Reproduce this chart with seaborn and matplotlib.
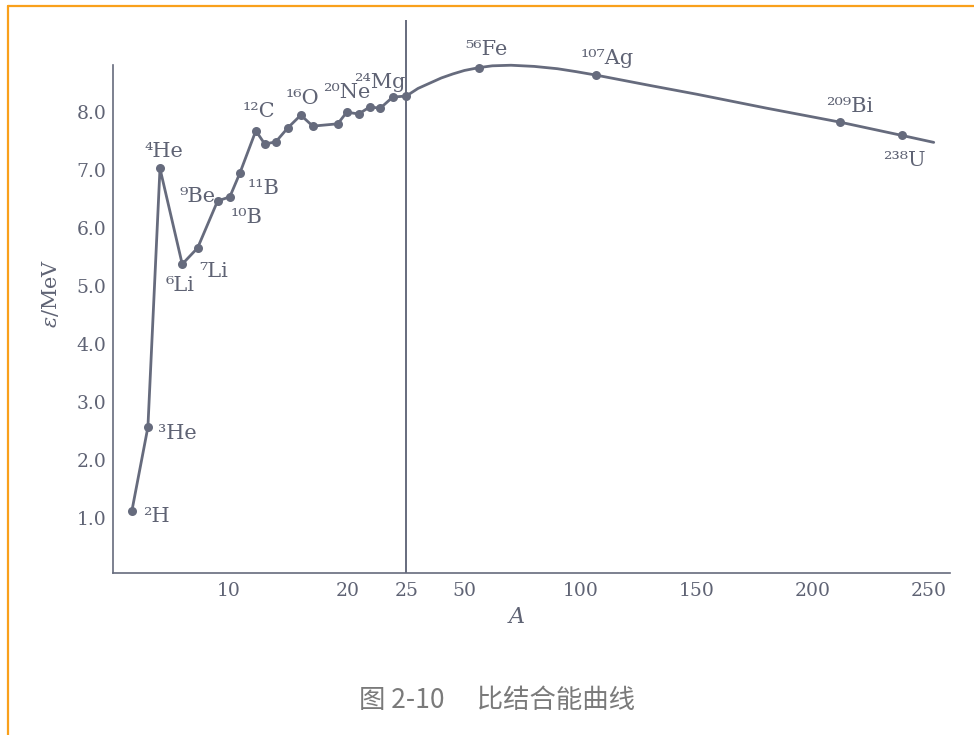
import numpy as np
import matplotlib
matplotlib.use("Agg")
import matplotlib.pyplot as plt
from matplotlib.lines import Line2D
from matplotlib.ticker import FormatStrFormatter
import seaborn as sns

# ==========================================
# Data
# ==========================================

# light nuclei, connected point by point (A < 25)
light_A = [1.81, 3.16, 4.18, 6.06, 7.36, 9.05, 10.08, 10.93, 12.28, 13.04, 13.97,
           14.98, 16.08, 17.09, 19.2, 19.96, 20.97, 21.9, 22.8, 23.84, 25]
light_eps = [1.13, 2.57, 7.03, 5.38, 5.66, 6.47, 6.54, 6.95, 7.68, 7.45, 7.49,
             7.73, 7.95, 7.76, 7.80, 8.00, 7.97, 8.09, 8.07, 8.26, 8.28]

# smooth curve for A >= 25
curve_A = [25, 30, 35, 40, 45, 50, 56.4, 62, 70, 80, 90, 98, 106.6,
           130, 150, 180, 211.5, 238.3, 252]
curve_eps = [8.28, 8.41, 8.50, 8.59, 8.66, 8.72, 8.77, 8.80, 8.81, 8.79, 8.75, 8.70, 8.64,
             8.46, 8.31, 8.07, 7.83, 7.60, 7.48]

# heavy nuclei marked on the curve
heavy_A = [56.4, 106.6, 211.5, 238.3]
heavy_eps = [8.77, 8.64, 7.83, 7.60]

# labels: (mass number, element, A, eps)
labels = [
    ("2", "H", 1.81, 1.13), ("3", "He", 3.16, 2.57), ("4", "He", 4.18, 7.03),
    ("6", "Li", 6.06, 5.38), ("7", "Li", 7.36, 5.66), ("9", "Be", 9.05, 6.47),
    ("10", "B", 10.08, 6.54), ("11", "B", 10.93, 6.95), ("12", "C", 12.28, 7.68),
    ("16", "O", 16.08, 7.95), ("20", "Ne", 19.96, 8.00), ("24", "Mg", 23.84, 8.26),
    ("56", "Fe", 56.4, 8.77), ("107", "Ag", 106.6, 8.64), ("209", "Bi", 211.5, 7.83),
    ("238", "U", 238.3, 7.60),
]
# label offsets in pixels (left / baseline of text relative to the point)
offsets = [(11, -11), (10, -12), (-16, 11), (-17, -27), (2, -29), (-38, -1),
           (1, -26), (8, -21), (-13, 14), (-15, 11), (-24, 14), (-39, 9),
           (-14, 13), (-15, 11), (-14, 10), (-19, -31)]

x_ticks = [10, 20, 25, 50, 100, 150, 200, 250]
y_ticks = [1, 2, 3, 4, 5, 6, 7, 8]

# ==========================================
# Style
# ==========================================

sns.set_style("white")
plt.rcParams["font.family"] = ["DejaVu Serif", "Noto Sans CJK SC"]
plt.rcParams["mathtext.fontset"] = "dejavuserif"

ink = "#666b7d"
text_c = "#5f6374"

SUP = str.maketrans("0123456789", "⁰¹²³⁴⁵⁶⁷⁸⁹")

# broken axis: A < 25 stretched, A > 25 compressed
R = 2.326 / 11.85


def forward(a):
    a = np.asarray(a, dtype=float)
    return np.where(a <= 25, a, 25 + (a - 25) * R)


def inverse(u):
    u = np.asarray(u, dtype=float)
    return np.where(u <= 25, u, 25 + (u - 25) / R)


# ==========================================
# Plot
# ==========================================

fig = plt.figure(figsize=(9.74, 7.35), dpi=100)
ax = fig.add_axes([113.3 / 974, 162.3 / 735, 836.7 / 974, 552.7 / 735])

sns.lineplot(x=light_A, y=light_eps, sort=False, estimator=None, ax=ax,
             color=ink, lw=2.0, marker="o", markersize=6.5,
             markeredgewidth=0, markerfacecolor=ink)
sns.lineplot(x=curve_A, y=curve_eps, sort=False, estimator=None, ax=ax,
             color=ink, lw=2.0)
sns.scatterplot(x=heavy_A, y=heavy_eps, ax=ax, color=ink, s=42, linewidth=0, zorder=5)

ax.set_xscale("function", functions=(forward, inverse))
ax.set_xlim(0.236, 259)
ax.set_ylim(0.06, 9.59)

ax.axvline(25, color=ink, lw=1.4)

for (mass, el, a, e), (dx, dy) in zip(labels, offsets):
    ax.annotate(mass.translate(SUP) + el, xy=(a, e), xytext=(dx, dy),
                textcoords="offset pixels", ha="left", va="baseline",
                fontsize=15, color=text_c)

# axes styling
for side in ["top", "right"]:
    ax.spines[side].set_visible(False)
for side in ["left", "bottom"]:
    ax.spines[side].set_color(ink)
    ax.spines[side].set_linewidth(1.2)
ax.spines["left"].set_bounds(0.06, 8.82)

ax.set_xticks(x_ticks)
ax.set_xticklabels([str(t) for t in x_ticks])
ax.set_yticks(y_ticks)
ax.yaxis.set_major_formatter(FormatStrFormatter("%.1f"))
ax.minorticks_off()
ax.tick_params(axis="both", direction="in", length=7, width=1.2, color=ink,
               labelcolor=text_c, labelsize=13.5)
ax.tick_params(axis="x", pad=7)
ax.tick_params(axis="y", pad=5)

ax.set_xlabel("")
ax.set_ylabel("$\\varepsilon$/MeV", fontsize=15, color=text_c)
ax.yaxis.set_label_coords(-0.063, 0.506)
ax.text(0.4825, -0.080, "A", transform=ax.transAxes, ha="center", va="center",
        fontsize=16, fontstyle="italic", color=text_c)

# caption
fig.text(497 / 974, 1 - 701 / 735, "图 2-10　 比结合能曲线", ha="center", va="center",
         fontsize=19, color="#7a7a7a", family=["Noto Sans CJK SC", "DejaVu Sans"])

# orange frame (top and left)
orange = "#f9a01b"
fig.add_artist(Line2D([8 / 974, 1], [1 - 6 / 735, 1 - 6 / 735], color=orange, lw=1.6,
                      transform=fig.transFigure))
fig.add_artist(Line2D([8 / 974, 8 / 974], [0, 1 - 6 / 735], color=orange, lw=1.6,
                      transform=fig.transFigure))

plt.savefig("out.png", dpi=100)
